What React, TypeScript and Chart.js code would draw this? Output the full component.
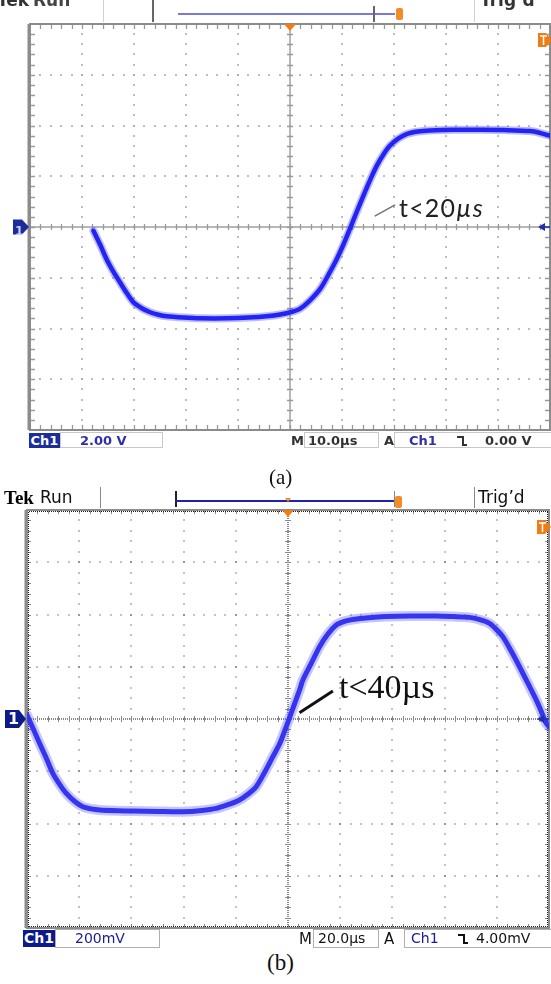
import React, { useEffect, useRef } from "react";
import { Chart, registerables } from "chart.js";

Chart.register(...registerables);

// ---------- Panel (a): 10.0 µs/div, 2.00 V/div ----------
const timeA = [
  -37.8, -36.5, -35.3, -34.0, -32.7, -31.4, -30.1, -28.5, -26.9, -25.3, -23.7, -20.5,
  -17.3, -12.0, -8.0, -4.5, -1.9, 0.6, 1.9, 3.8, 5.8, 7.4, 9.0, 10.3, 11.5, 12.8, 14.1,
  15.4, 16.7, 18.0, 19.2, 20.8, 22.4, 24.6, 26.9, 31.7, 36.5, 41.3, 46.2, 48.2, 50.0,
];
const voltA = [
  -0.15, -0.7, -1.26, -1.75, -2.18, -2.6, -2.97, -3.2, -3.36, -3.46, -3.52, -3.57,
  -3.6, -3.6, -3.57, -3.52, -3.45, -3.33, -3.23, -2.9, -2.44, -1.88, -1.26, -0.68, -0.08,
  0.58, 1.23, 1.85, 2.42, 2.87, 3.2, 3.48, 3.66, 3.76, 3.8, 3.83, 3.83, 3.82, 3.78, 3.7, 3.6,
];
const xGridA = [-50, -40, -30, -20, -10, 0, 10, 20, 30, 40, 50];
const yGridA = [-8, -6, -4, -2, 0, 2, 4, 6, 8];
const leaderA = [16.3, 0.43, 20.2, 0.87];

// ---------- Panel (b): 20.0 µs/div, 200 mV/div ----------
const timeB = [
  -100, -97.5, -95.2, -92.6, -90.1, -87.5, -85.0, -81.8, -78.6, -75.4, -72.2, -65, -59.5,
  -50, -40.3, -33, -27.5, -23, -18.6, -15.4, -12.2, -9, -5.8, -3.2, -0.7, 1.5, 4.4, 5.7,
  9, 12.1, 15.3, 18.5, 21.6, 24.8, 31, 37.6, 47, 56.8, 63, 69.5, 73.5, 77.2, 79.8, 82.3,
  85.5, 88.7, 91.9, 95.1, 97, 98.9, 100,
];
const voltB = [
  15, -40, -93, -150, -208, -250, -284, -315, -336, -344, -348, -351, -352,
  -354, -355, -350, -342, -328, -310, -288, -259, -205, -144, -95, -30, 30, 110, 149,
  215, 277, 325, 360, 374, 381, 388, 392, 394, 394, 392, 389, 380, 366, 343, 315,
  260, 200, 137, 73, 30, -16, -30,
];
const xGridB = [-100, -80, -60, -40, -20, 0, 20, 40, 60, 80, 100];
const yGridB = [-800, -600, -400, -200, 0, 200, 400, 600, 800];
const leaderB = [4.4, 24, 17.2, 107];

const scopePlugin = {
  id: "scope",
  beforeDatasetsDraw(chart: any, _a: any, o: any) {
    const { ctx, chartArea: ca, scales } = chart;
    const xs = scales.x;
    const ys = scales.y;
    const xg: number[] = o.xGrid;
    const yg: number[] = o.yGrid;
    const xMinor = (xg[1] - xg[0]) / 5;
    const yMinor = (yg[1] - yg[0]) / 5;
    const xc = xg[(xg.length - 1) / 2];
    const yc = yg[(yg.length - 1) / 2];
    const X = (v: number) => xs.getPixelForValue(v);
    const Y = (v: number) => ys.getPixelForValue(v);
    ctx.save();
    ctx.fillStyle = o.dot;
    for (let i = 1; i < xg.length - 1; i++) {
      if (xg[i] === xc) continue;
      const px = Math.round(X(xg[i]));
      for (let k = 0; k <= (yg.length - 1) * 5; k++) {
        const py = Math.round(Y(yg[0] + k * yMinor));
        ctx.fillRect(px - o.dotW / 2, py - o.dotH / 2, o.dotW, o.dotH);
      }
    }
    for (let j = 1; j < yg.length - 1; j++) {
      if (yg[j] === yc) continue;
      const py = Math.round(Y(yg[j]));
      for (let k = 0; k <= (xg.length - 1) * 5; k++) {
        const px = Math.round(X(xg[0] + k * xMinor));
        ctx.fillRect(px - o.dotH / 2, py - o.dotW / 2, o.dotH, o.dotW);
      }
    }
    const cx = Math.round(X(xc));
    const cy = Math.round(Y(yc));
    if (o.centerDotted) {
      ctx.fillStyle = o.centerColor;
      for (let px = ca.left; px < ca.right; px += 2) ctx.fillRect(px, cy - 0.5, 1, 1);
      for (let py = ca.top; py < ca.bottom; py += 2) ctx.fillRect(cx - 0.5, py, 1, 1);
    } else {
      ctx.strokeStyle = o.centerColor;
      ctx.lineWidth = o.centerW;
      ctx.beginPath();
      ctx.moveTo(ca.left, cy);
      ctx.lineTo(ca.right, cy);
      ctx.moveTo(cx, ca.top);
      ctx.lineTo(cx, ca.bottom);
      ctx.stroke();
    }
    ctx.strokeStyle = o.tickColor;
    ctx.lineWidth = o.tickW;
    ctx.beginPath();
    for (let k = 1; k < (xg.length - 1) * 5; k++) {
      const px = Math.round(X(xg[0] + k * xMinor)) + 0.5;
      ctx.moveTo(px, cy - o.cTick);
      ctx.lineTo(px, cy + o.cTick);
      ctx.moveTo(px, ca.top);
      ctx.lineTo(px, ca.top + o.eTick);
      ctx.moveTo(px, ca.bottom);
      ctx.lineTo(px, ca.bottom - o.eTick);
    }
    for (let k = 1; k < (yg.length - 1) * 5; k++) {
      const py = Math.round(Y(yg[0] + k * yMinor)) + 0.5;
      ctx.moveTo(cx - o.cTick, py);
      ctx.lineTo(cx + o.cTick, py);
      ctx.moveTo(ca.left, py);
      ctx.lineTo(ca.left + o.eTick, py);
      ctx.moveTo(ca.right, py);
      ctx.lineTo(ca.right - o.eTick, py);
    }
    ctx.stroke();
    if (o.edgeDots) {
      ctx.fillStyle = "#222";
      for (let px = ca.left + 2; px < ca.right - 1; px += 2) {
        ctx.fillRect(px, ca.top + 1, 1, 1);
        ctx.fillRect(px, ca.bottom - 2, 1, 1);
      }
      for (let py = ca.top + 2; py < ca.bottom - 1; py += 2) {
        ctx.fillRect(ca.left + 1, py, 1, 1);
        ctx.fillRect(ca.right - 2, py, 1, 1);
      }
    }
    ctx.strokeStyle = o.border;
    ctx.lineWidth = o.borderW;
    ctx.beginPath();
    ctx.moveTo(ca.left - o.borderW / 2 + 0.5, ca.top);
    ctx.lineTo(ca.left - o.borderW / 2 + 0.5, ca.bottom);
    ctx.stroke();
    ctx.lineWidth = o.borderW2;
    ctx.strokeRect(ca.left, ca.top, ca.right - ca.left, ca.bottom - ca.top);
    ctx.restore();
  },
  afterDatasetsDraw(chart: any, _a: any, o: any) {
    const { ctx, scales } = chart;
    const l = o.leader;
    ctx.save();
    ctx.strokeStyle = o.leaderColor;
    ctx.lineWidth = o.leaderW;
    ctx.beginPath();
    ctx.moveTo(scales.x.getPixelForValue(l[0]), scales.y.getPixelForValue(l[1]));
    ctx.lineTo(scales.x.getPixelForValue(l[2]), scales.y.getPixelForValue(l[3]));
    ctx.stroke();
    ctx.restore();
  },
  afterDraw(chart: any, _a: any, o: any) {
    const { ctx, chartArea: ca, scales } = chart;
    const xg: number[] = o.xGrid;
    const yg: number[] = o.yGrid;
    const cx = scales.x.getPixelForValue(xg[(xg.length - 1) / 2]);
    const cy = scales.y.getPixelForValue(yg[(yg.length - 1) / 2]);
    ctx.save();
    ctx.fillStyle = "#f07d14";
    ctx.beginPath();
    ctx.moveTo(cx - 6, ca.top);
    ctx.lineTo(cx + 6, ca.top);
    ctx.lineTo(cx, ca.top + 7);
    ctx.closePath();
    ctx.fill();
    const ty = ca.top + o.tMarkY;
    ctx.beginPath();
    ctx.moveTo(ca.right - 12, ty - 7);
    ctx.lineTo(ca.right - 4, ty - 7);
    ctx.lineTo(ca.right + 2, ty);
    ctx.lineTo(ca.right - 4, ty + 7);
    ctx.lineTo(ca.right - 12, ty + 7);
    ctx.closePath();
    ctx.fill();
    ctx.strokeStyle = "#fff";
    ctx.lineWidth = 1.5;
    ctx.beginPath();
    ctx.moveTo(ca.right - 10, ty - 4);
    ctx.lineTo(ca.right - 3, ty - 4);
    ctx.moveTo(ca.right - 6.5, ty - 4);
    ctx.lineTo(ca.right - 6.5, ty + 5);
    ctx.stroke();
    ctx.fillStyle = o.chColor;
    const gl = ca.left - o.chW;
    ctx.beginPath();
    ctx.moveTo(gl, cy - o.chH / 2);
    ctx.lineTo(ca.left - 8, cy - o.chH / 2);
    ctx.lineTo(ca.left - 1, cy);
    ctx.lineTo(ca.left - 8, cy + o.chH / 2);
    ctx.lineTo(gl, cy + o.chH / 2);
    ctx.closePath();
    ctx.fill();
    ctx.fillStyle = "#1f2fb0";
    ctx.strokeStyle = "#1f2fb0";
    ctx.lineWidth = 1.5;
    ctx.beginPath();
    ctx.moveTo(ca.right - 12, cy);
    ctx.lineTo(ca.right - 5, cy - 4);
    ctx.lineTo(ca.right - 5, cy + 4);
    ctx.closePath();
    ctx.fill();
    ctx.beginPath();
    ctx.moveTo(ca.right - 6, cy);
    ctx.lineTo(ca.right, cy);
    ctx.stroke();
    ctx.restore();
  },
};

function ScopeChart(props: {
  top: number;
  height: number;
  pad: { left: number; top: number; right: number; bottom: number };
  times: number[];
  values: number[];
  xGrid: number[];
  yGrid: number[];
  style: any;
  datasets: (pts: { x: number; y: number }[]) => any[];
}) {
  const ref = useRef<HTMLCanvasElement>(null);
  useEffect(() => {
    if (!ref.current) return;
    const pts = props.times.map((t, i) => ({ x: t, y: props.values[i] }));
    const chart = new Chart(ref.current, {
      type: "line",
      data: { datasets: props.datasets(pts) },
      options: {
        animation: false,
        responsive: false,
        maintainAspectRatio: false,
        layout: { padding: props.pad },
        events: [],
        plugins: {
          legend: { display: false },
          tooltip: { enabled: false },
          scope: { xGrid: props.xGrid, yGrid: props.yGrid, ...props.style },
        } as any,
        scales: {
          x: {
            type: "linear",
            min: props.xGrid[0],
            max: props.xGrid[props.xGrid.length - 1],
            display: false,
          },
          y: {
            type: "linear",
            min: props.yGrid[0],
            max: props.yGrid[props.yGrid.length - 1],
            display: false,
          },
        },
        elements: { point: { radius: 0 }, line: { tension: 0.3, borderCapStyle: "round", borderJoinStyle: "round" } },
      },
      plugins: [scopePlugin as any],
    });
    return () => chart.destroy();
  }, []);
  return (
    <canvas
      ref={ref}
      width={551}
      height={props.height}
      style={{ position: "absolute", left: 0, top: props.top, width: 551, height: props.height }}
    />
  );
}

const abs = (left: number, top: number, extra: any = {}) => ({
  position: "absolute" as const,
  left,
  top,
  whiteSpace: "nowrap" as const,
  ...extra,
});

function FallSym({ color }: { color: string }) {
  return (
    <span style={{ display: "inline-block", position: "relative", width: 12, height: 12, color }}>
      <span style={{ position: "absolute", left: 0, top: 1, width: 6, borderTop: "2px solid" }} />
      <span style={{ position: "absolute", left: 5, top: 1, height: 10, borderLeft: "2px solid" }} />
      <span style={{ position: "absolute", left: 5, top: 9, width: 5, borderTop: "2px solid" }} />
    </span>
  );
}

export default function App() {
  const sans = '"DejaVu Sans", sans-serif';
  const serif = '"Liberation Serif", "Times New Roman", serif';
  return (
    <div
      style={{
        position: "absolute",
        left: 0,
        top: 0,
        width: 551,
        height: 984,
        background: "#fff",
        overflow: "hidden",
      }}
    >
      <ScopeChart
        top={0}
        height={460}
        pad={{ left: 30, top: 24, right: 1, bottom: 30 }}
        times={timeA}
        values={voltA}
        xGrid={xGridA}
        yGrid={yGridA}
        style={{
          dot: "#a8a8a8",
          dotW: 1.5,
          dotH: 2,
          centerDotted: false,
          centerColor: "#a0a0a0",
          centerW: 1.5,
          tickColor: "#9a9a9a",
          tickW: 1.3,
          cTick: 3,
          eTick: 5,
          edgeDots: false,
          border: "#8c8c8c",
          borderW: 3,
          borderW2: 2,
          leader: leaderA,
          leaderColor: "#707070",
          leaderW: 1.3,
          tMarkY: 16,
          chColor: "#1c2c9c",
          chW: 17,
          chH: 15,
        }}
        datasets={(pts) => [
          {
            data: pts,
            borderColor: "rgba(60,60,255,0.35)",
            borderWidth: 8,
            pointRadius: 0,
          },
          {
            data: pts,
            borderColor: "#1616ee",
            borderWidth: 4.5,
            pointRadius: 0,
          },
        ]}
      />
      <ScopeChart
        top={486}
        height={462}
        pad={{ left: 27, top: 24, right: 2, bottom: 20 }}
        times={timeB}
        values={voltB}
        xGrid={xGridB}
        yGrid={yGridB}
        style={{
          dot: "#111",
          dotW: 1,
          dotH: 1,
          centerDotted: true,
          centerColor: "#111",
          centerW: 1,
          tickColor: "#8a8a8a",
          tickW: 1,
          cTick: 3,
          eTick: 4,
          edgeDots: true,
          border: "#8c8c8c",
          borderW: 3,
          borderW2: 2,
          leader: leaderB,
          leaderColor: "#111",
          leaderW: 3,
          tMarkY: 17,
          chColor: "#0c1a8c",
          chW: 22,
          chH: 18,
        }}
        datasets={(pts) => [
          {
            data: pts,
            borderColor: "rgba(90,90,255,0.35)",
            borderWidth: 10,
            pointRadius: 0,
          },
          {
            data: pts,
            borderColor: "#2222e6",
            borderWidth: 5,
            pointRadius: 0,
          },
        ]}
      />

      {/* ---------- Panel (a) header ---------- */}
      <div style={{ position: "absolute", left: 0, top: 0, width: 551, height: 23, overflow: "hidden" }}>
        <span style={abs(-3, -10, { font: `bold 17px ${sans}`, color: "#333" })}>Tek</span>
        <span style={abs(33, -10, { font: `bold 17px ${sans}`, color: "#444" })}>Run</span>
        <div style={abs(103, 0, { width: 1, height: 22, background: "#d0d0d0" })} />
        <div style={abs(152, 0, { width: 1.5, height: 22, background: "#666" })} />
        <div style={abs(178, 13, { width: 217, height: 2, background: "#7a7ad8" })} />
        <div style={abs(373, 6, { width: 1.5, height: 16, background: "#666" })} />
        <div style={abs(396, 8, { width: 7, height: 12, background: "#f28c28", borderRadius: 2 })} />
        <div style={abs(474, 0, { width: 1, height: 22, background: "#d0d0d0" })} />
        <span style={abs(480, -10, { font: `bold 17px ${sans}`, color: "#333" })}>Trig’d</span>
      </div>
      <span style={abs(15, 224, { font: `bold 12px ${sans}`, color: "#c8d0ff", lineHeight: "15px" })}>1</span>

      {/* Panel (a) annotation */}
      <span style={abs(399, 192, { font: `25px Lato, "Open Sans", sans-serif`, color: "#222", letterSpacing: 1.2 })}>
        t&lt;20<i>µs</i>
      </span>

      {/* ---------- Panel (a) status bar ---------- */}
      <div
        style={abs(29, 433, {
          width: 31,
          height: 15,
          background: "#1c2d9e",
          color: "#fff",
          font: `bold 13px ${sans}`,
          lineHeight: "15px",
          textAlign: "center",
        })}
      >
        Ch1
      </div>
      <div
        style={abs(60, 432, {
          width: 103,
          height: 16,
          border: "1px solid #c8c8c8",
          boxSizing: "border-box",
          color: "#2f2fa8",
          font: `bold 13px ${sans}`,
          lineHeight: "15px",
          paddingLeft: 19,
        })}
      >
        2.00 V
      </div>
      <span style={abs(291, 433, { font: `bold 13px ${sans}`, color: "#333", lineHeight: "15px" })}>M</span>
      <div
        style={abs(304, 432, {
          width: 75,
          height: 16,
          border: "1px solid #c8c8c8",
          boxSizing: "border-box",
          color: "#333",
          font: `bold 13px ${sans}`,
          lineHeight: "15px",
          paddingLeft: 3,
        })}
      >
        10.0µs
      </div>
      <span style={abs(384, 433, { font: `bold 13px ${sans}`, color: "#333", lineHeight: "15px" })}>A</span>
      <div
        style={abs(394, 432, {
          width: 160,
          height: 16,
          border: "1px solid #c8c8c8",
          boxSizing: "border-box",
          font: `bold 13px ${sans}`,
          lineHeight: "15px",
        })}
      >
        <span style={abs(14, 0, { color: "#2f2fa8" })}>Ch1</span>
        <span style={abs(62, 2)}>
          <FallSym color="#333" />
        </span>
        <span style={abs(90, 0, { color: "#333" })}>0.00 V</span>
      </div>

      <span style={abs(269, 465, { font: `21px ${serif}`, color: "#111" })}>(a)</span>

      {/* ---------- Panel (b) header ---------- */}
      <span style={abs(4, 487, { font: `bold 19px ${serif}`, color: "#000" })}>Tek</span>
      <span style={abs(40, 487, { font: `17px ${sans}`, color: "#111" })}>Run</span>
      <div style={abs(100, 487, { width: 1, height: 21, background: "#888" })} />
      <div style={abs(175, 491, { width: 1.5, height: 16, background: "#222" })} />
      <div style={abs(175, 500, { width: 219, height: 1.5, background: "#2020b8" })} />
      <div style={abs(394, 491, { width: 1, height: 16, background: "#888" })} />
      <div style={abs(395, 496, { width: 7, height: 12, background: "#f28c28", borderRadius: 2 })} />
      <div
        style={abs(285, 498, {
          width: 0,
          height: 0,
          borderLeft: "3px solid transparent",
          borderRight: "3px solid transparent",
          borderTop: "4px solid #f28c28",
        })}
      />
      <div style={abs(474, 487, { width: 1, height: 21, background: "#888" })} />
      <span style={abs(478, 487, { font: `17px ${sans}`, color: "#111" })}>Trig’d</span>
      <span style={abs(8, 709, { font: `bold 16px ${sans}`, color: "#fff", lineHeight: "20px" })}>1</span>

      {/* Panel (b) annotation */}
      <span style={abs(339, 668, { font: `34px ${serif}`, color: "#111" })}>t&lt;40µs</span>

      {/* ---------- Panel (b) status bar ---------- */}
      <div
        style={abs(23, 930, {
          width: 32,
          height: 17,
          background: "#0c1a8e",
          color: "#fff",
          font: `bold 14px ${sans}`,
          lineHeight: "17px",
          textAlign: "center",
        })}
      >
        Ch1
      </div>
      <div
        style={abs(55, 929, {
          width: 105,
          height: 19,
          border: "1.5px solid #b0b0b0",
          boxSizing: "border-box",
          color: "#1a1a9c",
          font: `14px ${sans}`,
          lineHeight: "16px",
          paddingLeft: 19,
        })}
      >
        200mV
      </div>
      <span style={abs(299, 930, { font: `15px ${sans}`, color: "#111", lineHeight: "18px" })}>M</span>
      <div
        style={abs(313, 929, {
          width: 66,
          height: 19,
          border: "1.5px solid #b0b0b0",
          boxSizing: "border-box",
          color: "#111",
          font: `14px ${sans}`,
          lineHeight: "16px",
          paddingLeft: 4,
        })}
      >
        20.0µs
      </div>
      <span style={abs(384, 930, { font: `15px ${sans}`, color: "#111", lineHeight: "18px" })}>A</span>
      <div
        style={abs(404, 929, {
          width: 150,
          height: 19,
          border: "1.5px solid #b0b0b0",
          boxSizing: "border-box",
          font: `14px ${sans}`,
          lineHeight: "16px",
        })}
      >
        <span style={abs(6, 0, { color: "#1a1a9c" })}>Ch1</span>
        <span style={abs(53, 2)}>
          <FallSym color="#111" />
        </span>
        <span style={abs(71, 0, { color: "#111" })}>4.00mV</span>
      </div>

      <span style={abs(267, 950, { font: `23px ${serif}`, color: "#111" })}>(b)</span>
    </div>
  );
}
